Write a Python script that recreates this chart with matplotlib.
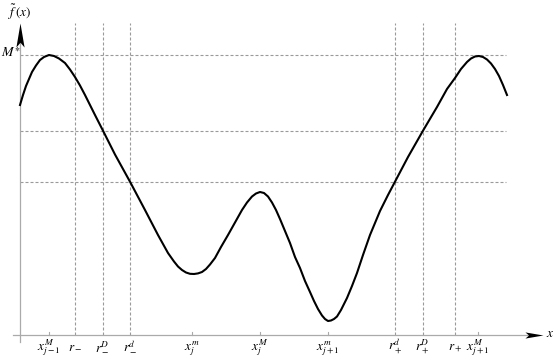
import matplotlib
matplotlib.use("Agg")
import matplotlib.pyplot as plt
from matplotlib.path import Path
from matplotlib.transforms import Affine2D

plt.rcParams["mathtext.fontset"] = "stix"
plt.rcParams["font.family"] = ["Liberation Serif", "DejaVu Serif"]

# curve (origin where the axes cross)
curve_x = [0, 3, 6, 9, 12, 16, 20, 24, 29, 34, 39, 45, 50, 55, 60, 65, 70,
           75, 83, 95, 110, 125, 138, 148, 154, 158, 162, 166, 170, 174, 178,
           182, 186, 190, 195, 201, 208, 215, 222, 227, 232, 236, 240, 244,
           248, 252, 256, 260, 265, 270, 275, 280, 285, 290, 294, 298, 302,
           305, 308, 311, 314, 317, 321, 327, 332, 337, 343, 350, 360, 368,
           375, 388, 403, 417, 427, 435, 441, 447, 451, 455, 459, 463, 467,
           471, 475, 479, 483, 487]
curve_y = [230, 240, 249, 256, 263, 269.5, 275, 278, 280, 279, 276.5, 272,
           265.5, 258, 249.5, 240, 230, 220, 204.3, 180.5, 153.3, 125, 100,
           82, 73.5, 68.5, 65, 62.5, 61.2, 61, 61.6, 63, 66, 70.5, 77, 88,
           100, 112.5, 125, 132.5, 138.5, 141.5, 143, 142, 138.5, 132.5, 125,
           116, 104, 92, 78, 67, 54, 43, 34, 26, 19.5, 16, 14, 14.5, 16, 18.5,
           25, 37, 49, 62, 80, 100, 124, 140, 153.3, 178, 204.3, 228, 246,
           257, 266, 273, 276.5, 278.5, 279, 278, 275.5, 271.5, 266, 259, 250,
           240]

# reference levels and abscissas
m_star = 280
levels = [m_star, 204.3, 153.3]
r_pos = [55, 82.7, 110, 375, 402.7, 435]
r_labels = [r"$r_-$", r"$r^D_-$", r"$r^d_-$", r"$r^d_+$", r"$r^D_+$", r"$r_+$"]
x_pos = [29, 172, 240, 308, 458]
x_labels = [r"$x^M_{j-1}$", r"$x^m_j$", r"$x^M_j$", r"$x^m_{j+1}$", r"$x^M_{j+1}$"]

fig = plt.figure(figsize=(5.54, 3.59), dpi=100)
ax = fig.add_axes([0, 0, 1, 1])
ax.set_xlim(-20, 534)
ax.set_ylim(-24, 335)
ax.axis("off")

dash = dict(color="#9a9a9a", lw=0.8, ls=(0, (2.7, 1.8)), zorder=1)
for lv in levels:
    ax.plot([0, 486], [lv, lv], **dash)
for rp in r_pos:
    ax.plot([rp, rp], [0, 312], **dash)

# axes with arrow heads
ax.plot([-7, 512], [0, 0], color="#aaaaaa", lw=0.9, zorder=2)
ax.plot([0, 0], [-7, 295], color="#aaaaaa", lw=0.9, zorder=2)
arrow = Path([(0, 0), (-0.17, -1), (0, -0.8), (0.17, -1), (0, 0)],
             [Path.MOVETO, Path.LINETO, Path.LINETO, Path.LINETO, Path.CLOSEPOLY])
ax.plot([0], [312], marker=arrow, ms=34.6, color="black", mew=0, zorder=3)
arrow_r = arrow.transformed(Affine2D().rotate_deg(-90))
ax.plot([523], [0], marker=arrow_r, ms=26, color="black", mew=0, zorder=3)

for xp in x_pos:
    ax.plot([xp, xp], [0, 3], color="#aaaaaa", lw=0.8, zorder=2)

ax.plot(curve_x, curve_y, color="black", lw=1.5, zorder=4,
        solid_joinstyle="round")

fs = 9.5
ax.text(0, 323, r"$\tilde{f}\,(x)$", ha="center", va="center", fontsize=fs)
ax.text(-19, 282, r"$M^{\ast}$", ha="left", va="center", fontsize=fs + 0.5)
ax.text(526, 1, r"$x$", ha="left", va="center", fontsize=fs)
for xp, lab in zip(x_pos + r_pos, x_labels + r_labels):
    ax.text(xp, -15, lab, ha="center", va="baseline", fontsize=fs)

fig.savefig("out.png", dpi=100)
